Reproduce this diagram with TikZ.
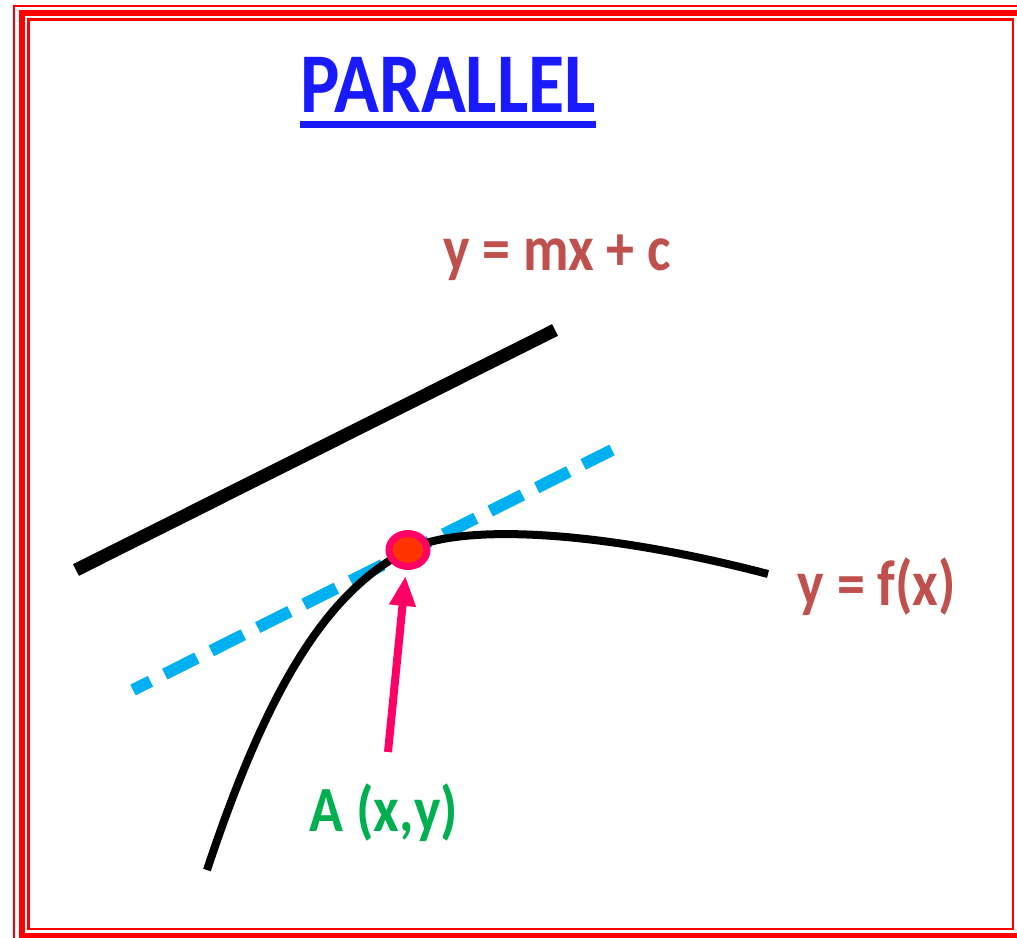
\documentclass[tikz,border=0pt]{standalone}
\usepackage{fontspec}
\setmainfont{Carlito}
\usepackage{tikz}
\usetikzlibrary{arrows.meta,shapes.geometric}
\definecolor{titleblue}{RGB}{26,26,255}
\definecolor{lblred}{RGB}{192,80,77}
\definecolor{lblgreen}{RGB}{0,176,80}
\definecolor{tanblue}{RGB}{0,176,240}
\definecolor{ptpink}{RGB}{255,0,102}
\definecolor{ptorange}{RGB}{255,51,0}
\newcommand{\tallbox}[1]{\scalebox{1}[1.15]{#1}}

\begin{document}
\begin{tikzpicture}[x=1pt,y=-1pt,
    lbl/.style={inner sep=0pt, anchor=base, font=\bfseries\fontsize{56}{64}\selectfont},
    frame/.style={draw=red, line width=2.5pt}]
    \useasboundingbox (0,0) rectangle (1017,937);
    \clip (0,0) rectangle (1017,937);
    % Khung do
    \draw[frame] (14,6) rectangle (1027,943);
    \draw[frame, line width=6pt] (21.5,12.5) rectangle (1020,936);
    \draw[frame] (28.5,19.5) rectangle (1013,929);
    % Tieu de
    \node[inner sep=0pt, anchor=base, titleblue, font=\bfseries\fontsize{74}{84}\selectfont] (title) at (448,112) {\tallbox{PARALLEL}};
    \draw[titleblue, line width=7pt] ([yshift=-12pt]title.base west) -- ([yshift=-12pt]title.base east);
    % Duong thang y = mx + c
    \draw[line width=13pt] (76,570) -- (555,330);
    \node[lbl, lblred] (eqline) at (557,270) {\tallbox{y = mx + c}};
    % Tiep tuyen (net dut)
    \draw[tanblue, line width=12pt, dash pattern=on 36pt off 16pt, dash phase=16.5pt] (133,690) -- (612,450);
    % Duong cong y = f(x)
    \coordinate (A) at (408,550);
    \draw[line width=8pt] (207,870) .. controls (270,680) and (330,590) .. (A)
        .. controls (460,523) and (600,530) .. (768,574);
    \node[lbl, lblred] (eqcurve) at (877,605) {\tallbox{y = f(x)}};
    % Diem A
    \node[ellipse, draw=ptpink, fill=ptorange, line width=7pt, minimum width=38pt, minimum height=33pt, inner sep=0pt] (ptA) at (A) {};
    \node[lbl, lblgreen] (lblA) at (384,831) {\tallbox{A (x,y)}};
    \coordinate (tail) at (388,752);
    \draw[ptpink, line width=8pt, -{Triangle[width=25pt,length=30pt]}, shorten >=6pt] (tail) -- (ptA);
\end{tikzpicture}
\end{document}
